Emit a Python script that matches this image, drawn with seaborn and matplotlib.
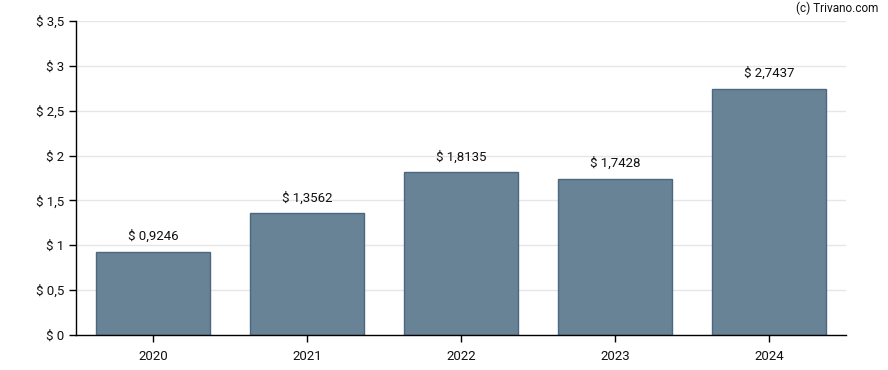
import seaborn as sns
import matplotlib.pyplot as plt
import pandas as pd

years = ['2020', '2021', '2022', '2023', '2024']
values = [0.9246, 1.3562, 1.8135, 1.7428, 2.7437]
y_ticks = [0, 0.5, 1, 1.5, 2, 2.5, 3, 3.5]

df = pd.DataFrame({'year': years, 'value': values})

sns.set_style('white')
plt.rcParams['font.family'] = ['Roboto', 'DejaVu Sans']

fig = plt.figure(figsize=(8.88, 3.70), dpi=100)
ax = fig.add_axes([76 / 888, 35 / 370, 770 / 888, 314 / 370])

sns.barplot(data=df, x='year', y='value', color='#688396', saturation=1,
            width=0.745, edgecolor='#4a6880', linewidth=1, ax=ax, zorder=2)


def fmt(v):
    s = f'{v:g}'.replace('.', ',')
    return f'$ {s}'


for i, v in enumerate(values):
    ax.text(i, v + 0.1, fmt(v), ha='center', va='bottom', fontsize=9.5, color='#111111')

ax.set_ylim(0, 3.5)
ax.set_xlim(-0.5, 4.5)
ax.set_yticks(y_ticks)
ax.set_yticklabels([fmt(t) for t in y_ticks])
ax.yaxis.grid(True, color='#e6e6e6', linewidth=1, zorder=0)
ax.set_axisbelow(True)
ax.set_xlabel('')
ax.set_ylabel('')
for side in ['top', 'right']:
    ax.spines[side].set_visible(False)
for side in ['left', 'bottom']:
    ax.spines[side].set_color('black')
    ax.spines[side].set_linewidth(1)
ax.tick_params(axis='both', which='both', length=5, width=1, color='black',
               labelsize=9.5, labelcolor='#111111', left=True, bottom=True)
ax.tick_params(axis='x', pad=6)

fig.text(878 / 888, 1 - 8 / 370, '(c) Trivano.com', ha='right', va='center',
         fontsize=8.5, color='#111111')

fig.savefig('out.png', dpi=100)
